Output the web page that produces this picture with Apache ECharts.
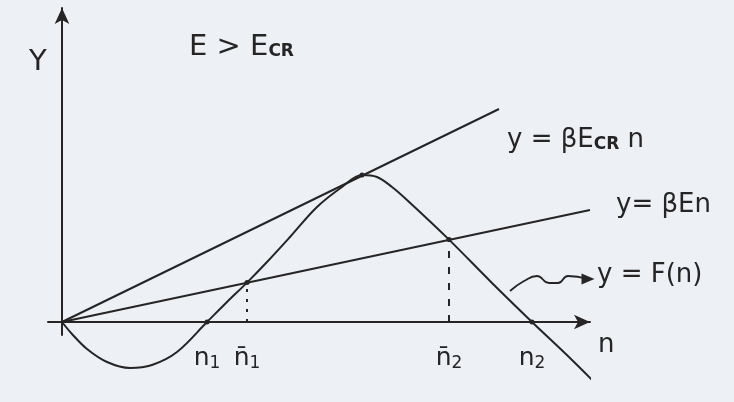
<!DOCTYPE html>
<html>
<head>
<meta charset="utf-8">
<script src="https://cdn.jsdelivr.net/npm/echarts@6/dist/echarts.min.js"></script>
<style>
  html, body { margin: 0; padding: 0; background: #edf1f5; }
  #chart { width: 734px; height: 402px; }
</style>
</head>
<body>
<div id="chart"></div>
<script>
// F(n): dips below zero, crosses at n1, touches y = βE_cr·n, falls through n2
const curveF = [
  [0, 0], [0.1, -0.12], [0.25, -0.27], [0.45, -0.4], [0.68, -0.46], [0.9, -0.43],
  [1.15, -0.3], [1.45, 0], [1.65, 0.2], [1.85, 0.394], [2.05, 0.6], [2.28, 0.85],
  [2.55, 1.15], [2.8, 1.35], [3.0, 1.47], [3.15, 1.45], [3.3, 1.35], [3.45, 1.22],
  [3.87, 0.824], [4.3, 0.39], [4.7, 0], [5.1, -0.38], [5.48, -0.76]
];
// straight lines through the origin: y = βE_cr·n and y = βE·n
const lineBetaEcr = [[0, 0], [4.37, 2.13]];
const lineBetaE = [[0, 0], [5.28, 1.12]];
// points where F meets the lines / the axis
const keyPoints = [[1.45, 0], [1.85, 0.394], [3.0, 1.47], [3.87, 0.824], [4.7, 0]];
// dashed drop lines at n̄1 and n̄2
const dropPoints = [[1.85, 0.394], [3.87, 0.824]];
// axis tick labels
const tickValues = [1.45, 1.85, 3.87, 4.7];
const tickNames = ['n', 'n\u0304', 'n\u0304', 'n'];
const tickSubs = ['1', '1', '2', '2'];
// wavy pointer towards the F(n) label
const pointerPath = [[4.48, 0.31], [4.62, 0.41], [4.75, 0.46], [4.87, 0.39], [4.96, 0.39], [5.06, 0.46], [5.26, 0.43]];
// text annotations: [n, y, rich text]
const notes = [
  [-0.33, 2.60, '{big|Y}'],
  [1.27, 2.75, '{big|E > E}{sub|CR}'],
  [4.45, 1.82, '{t|y = βE}{sub|CR}{t| n}'],
  [5.54, 1.17, '{t|y= βEn}'],
  [5.35, 0.47, '{t|y = F(n)}'],
  [5.36, -0.23, '{t|n}']
];

const ink = '#262425';
const font = 'DejaVu Sans';
const chart = echarts.init(document.getElementById('chart'));

const series = [
  { type: 'line', data: lineBetaEcr, symbol: 'none', clip: false, lineStyle: { color: ink, width: 2 } },
  { type: 'line', data: lineBetaE, symbol: 'none', clip: false, lineStyle: { color: ink, width: 2 } },
  { type: 'line', data: curveF, symbol: 'none', smooth: 0.35, clip: false, lineStyle: { color: ink, width: 2 } },
  {
    type: 'scatter', data: keyPoints, symbolSize: 5, clip: false,
    itemStyle: { color: ink, opacity: 1 }
  },
  {
    type: 'line', smooth: 0.5, clip: false, showSymbol: true,
    data: pointerPath.map((p, i) => i === pointerPath.length - 1
      ? { value: p, symbol: 'triangle', symbolSize: [11, 13], symbolRotate: -90 }
      : { value: p, symbol: 'none' }),
    lineStyle: { color: ink, width: 1.8 }, itemStyle: { color: ink }
  },
  {
    type: 'scatter', data: notes, symbolSize: 0, clip: false,
    itemStyle: { color: ink, opacity: 1 },
    label: {
      show: true, position: 'right', distance: 0, color: ink,
      textBorderWidth: 0,
      formatter: p => p.data[2],
      rich: {
        big: { fontFamily: font, fontSize: 29, color: ink },
        t: { fontFamily: font, fontSize: 26, color: ink },
        sub: { fontFamily: font, fontSize: 17, fontWeight: 'bold', color: ink, padding: [10, 0, 0, 0] }
      }
    }
  }
];
dropPoints.forEach((p, i) => series.push({
  type: 'line', data: [[p[0], 0], p], symbol: 'none', clip: false,
  lineStyle: { color: ink, width: 2, type: i === 0 ? [3, 7] : [7, 9] }
}));

chart.setOption({
  backgroundColor: '#edf1f5',
  animation: false,
  grid: { left: 48, right: 144, top: 8, bottom: 67 },
  xAxis: {
    type: 'value', min: -0.14, max: 5.28,
    axisLine: { onZero: true, symbol: ['none', 'arrow'], symbolSize: [11, 16], lineStyle: { color: ink, width: 2 } },
    axisTick: { show: false },
    splitLine: { show: false },
    axisLabel: {
      customValues: tickValues, margin: 10, color: ink,
      formatter: v => {
        const i = tickValues.indexOf(v);
        return i < 0 ? '' : '{n|' + tickNames[i] + '}{s|' + tickSubs[i] + '}';
      },
      rich: {
        n: { fontFamily: font, fontSize: 25, color: ink },
        s: { fontFamily: font, fontSize: 17, color: ink, padding: [10, 0, 0, 0] }
      }
    }
  },
  yAxis: {
    type: 'value', min: -0.13, max: 3.14,
    axisLine: { onZero: true, symbol: ['none', 'arrow'], symbolSize: [11, 16], lineStyle: { color: ink, width: 2 } },
    axisTick: { show: false },
    splitLine: { show: false },
    axisLabel: { show: false }
  },
  series: series
});
</script>
</body>
</html>
